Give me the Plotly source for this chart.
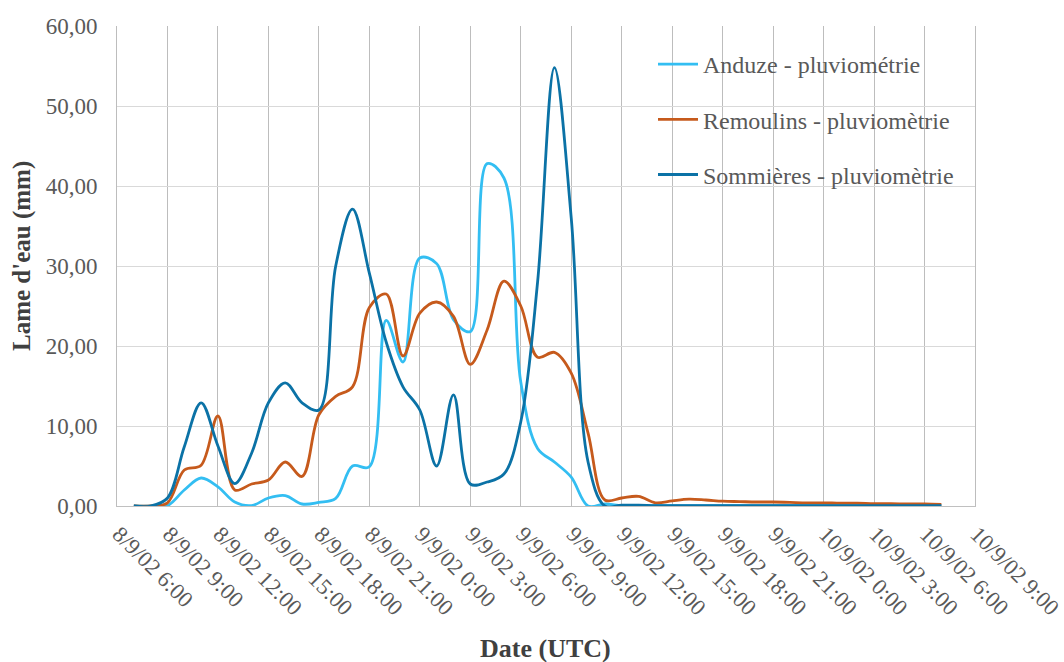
import plotly.graph_objects as go
import pandas as pd

# hourly timestamps: 8/9/2002 07:00 -> 10/9/2002 07:00
times = pd.date_range("2002-09-08 07:00", periods=49, freq="h")

anduze = [0, 0, 0.05, 2.0, 3.5, 2.4, 0.5, 0.05, 1.0, 1.3, 0.25, 0.45, 0.95, 5.0, 4.9,
          23.2, 18.0, 31.0, 30.3, 23.3, 21.8, 42.8, 41.0, 15.5, 7.2, 5.5, 3.6, 0.0, 0.25,
          0.05, 0.05, 0.05, 0.05, 0.05, 0.05, 0.05, 0.05, 0.05, 0.05, 0.05, 0.05, 0.05,
          0.05, 0.05, 0.05, 0.05, 0.05, 0.05, 0.05]

remoulins = [0, 0, 0.4, 4.5, 5.1, 11.25, 2.0, 2.75, 3.25, 5.5, 3.7, 11.4, 13.7, 14.9,
             24.8, 26.5, 18.75, 24.1, 25.5, 23.7, 17.7, 22.0, 28.1, 25.0, 18.6, 19.2, 16.6,
             9.1, 0.75, 1.0, 1.2, 0.4, 0.65, 0.85, 0.75, 0.6, 0.55, 0.5, 0.5, 0.45, 0.4,
             0.4, 0.35, 0.35, 0.3, 0.3, 0.25, 0.25, 0.2]

sommieres = [0, 0, 1.0, 7.4, 12.9, 7.5, 2.8, 6.6, 12.9, 15.4, 12.9, 12.0, 30.0, 37.1,
             29.1, 20.5, 14.9, 12.0, 5.0, 13.9, 2.75, 3.0, 4.0, 10.5, 28.0, 54.8, 36.0, 5.5,
             0.0, 0.1, 0.1, 0.05, 0.05, 0.05, 0.05, 0.05, 0.05, 0.05, 0.05, 0.05, 0.05,
             0.05, 0.05, 0.05, 0.05, 0.05, 0.05, 0.05, 0.05]

series_names = ["Anduze - pluviométrie", "Remoulins - pluviomètrie", "Sommières - pluviomètrie"]
series_colors = ["#33BEF2", "#C65A1C", "#0B72A6"]

tick_times = ["2002-09-08 06:00", "2002-09-08 09:00", "2002-09-08 12:00", "2002-09-08 15:00",
              "2002-09-08 18:00", "2002-09-08 21:00", "2002-09-09 00:00", "2002-09-09 03:00",
              "2002-09-09 06:00", "2002-09-09 09:00", "2002-09-09 12:00", "2002-09-09 15:00",
              "2002-09-09 18:00", "2002-09-09 21:00", "2002-09-10 00:00", "2002-09-10 03:00",
              "2002-09-10 06:00", "2002-09-10 09:00"]
tick_labels = ["8/9/02 6:00", "8/9/02 9:00", "8/9/02 12:00", "8/9/02 15:00", "8/9/02 18:00",
               "8/9/02 21:00", "9/9/02 0:00", "9/9/02 3:00", "9/9/02 6:00", "9/9/02 9:00",
               "9/9/02 12:00", "9/9/02 15:00", "9/9/02 18:00", "9/9/02 21:00",
               "10/9/02 0:00", "10/9/02 3:00", "10/9/02 6:00", "10/9/02 9:00"]

FONT = "Liberation Serif"

fig = go.Figure()
for name, vals, col in zip(series_names, [anduze, remoulins, sommieres], series_colors):
    fig.add_trace(go.Scatter(
        x=times, y=vals, name=name, mode="lines", legendgroup=name,
        line=dict(color=col, width=2.8, shape="spline", smoothing=1.0),
    ))

W, H = 1064, 662
L, R, T, B = 117, 89, 26, 156
pw, ph = W - L - R, H - T - B

def px(x):
    return (x - L) / pw

def py(y):
    return (H - B - y) / ph

fig.update_layout(
    width=W, height=H,
    margin=dict(l=L, r=R, t=T, b=B),
    paper_bgcolor="white", plot_bgcolor="white",
    font=dict(family=FONT, color="#595959"),
    showlegend=True,
    legend=dict(
        x=px(653), y=py(42), xanchor="left", yanchor="top",
        bgcolor="rgba(0,0,0,0)", font=dict(size=24, color="#595959", family=FONT),
        tracegroupgap=21, itemwidth=40,
    ),
    shapes=[dict(type="rect", xref="paper", yref="paper",
                 x0=px(630), x1=px(970), y0=py(203), y1=py(38),
                 fillcolor="white", line=dict(width=0), layer="between")],
    annotations=[
        dict(text="<b>Date (UTC)</b>", xref="paper", yref="paper", x=px(545), y=0,
             yshift=-142, xanchor="center", yanchor="middle", showarrow=False,
             font=dict(size=26, color="#404040", family=FONT)),
        dict(text="<b>Lame d'eau (mm)</b>", xref="paper", yref="paper", x=0, xshift=-95,
             y=py(256), textangle=-90, xanchor="center", yanchor="middle", showarrow=False,
             font=dict(size=25, color="#404040", family=FONT)),
    ],
    separators=", ",
)

fig.update_xaxes(
    type="date", range=["2002-09-08 06:00", "2002-09-10 09:00"],
    tickmode="array", tickvals=tick_times, ticktext=tick_labels, tickangle=45,
    tickfont=dict(size=22.5, color="#595959", family=FONT),
    showgrid=True, gridcolor="#BDBDBD", gridwidth=1,
    showline=True, linecolor="#C0C0C0", linewidth=1,
    ticks="", zeroline=False, automargin=False,
    ticklabelstandoff=5, ticklabelshift=2, ticklabeloverflow="allow",
)
fig.update_yaxes(
    range=[0, 60], tickmode="linear", tick0=0, dtick=10, tickformat=".2f",
    tickfont=dict(size=23, color="#595959", family=FONT),
    showgrid=True, gridcolor="#D9D9D9", gridwidth=1,
    showline=True, linecolor="#BDBDBD", linewidth=1, mirror=True,
    ticks="", zeroline=False, ticklabelstandoff=14, automargin=False,
)

fig.write_html("out.html")
